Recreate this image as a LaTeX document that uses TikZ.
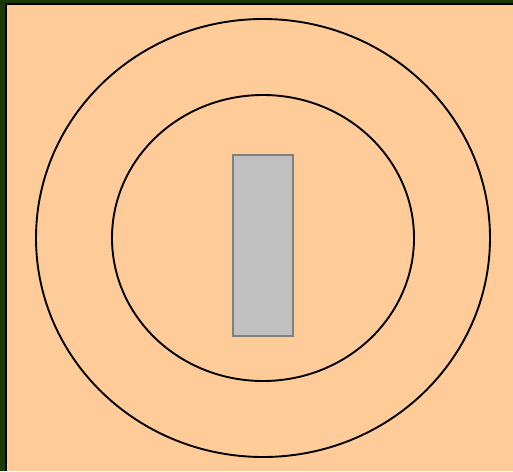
\documentclass[tikz,border=0pt]{standalone}
\usepackage{xcolor}
\usepackage{tikz}
\definecolor{peach}{HTML}{FFCC99}
\definecolor{frame}{HTML}{1C3A08}
\definecolor{bar}{HTML}{C0C0C0}
\definecolor{barline}{HTML}{808080}
\tikzset{
    ring/.style={draw=black, line width=1.9pt},
    barbox/.style={fill=bar, draw=barline, line width=2pt}
}

\begin{document}
\begin{tikzpicture}[x=1pt, y=-1pt]
    \useasboundingbox (0,0) rectangle (513,471);
    % background and frame
    \fill[frame] (0,0) rectangle (513,471);
    \fill[black] (5,3) rectangle (513,471);
    \fill[peach] (7,5) rectangle (513,471);
    % rings
    \draw[ring] (263,238) ellipse [x radius=227, y radius=219];
    \draw[ring] (263,238) ellipse [x radius=151, y radius=143];
    % bar in the middle
    \draw[barbox] (233,155) rectangle (293,336);
\end{tikzpicture}
\end{document}
